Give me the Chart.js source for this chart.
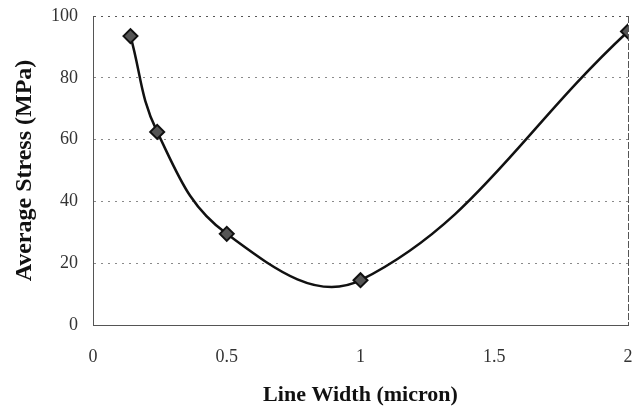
<!DOCTYPE html>
<html>
<head>
<meta charset="utf-8">
<script src="https://cdn.jsdelivr.net/npm/chart.js@4/dist/chart.umd.min.js"></script>
<style>
  html, body { margin: 0; padding: 0; background: #ffffff; }
  #wrap { width: 643px; height: 412px; position: relative; }
</style>
</head>
<body>
<div id="wrap"><canvas id="stress"></canvas></div>
<script>
// Line width (micron) vs average stress (MPa)
const lineWidths = [0.14, 0.24, 0.5, 1, 2];
const avgStress = [93.5, 62.5, 29.5, 14.5, 95];
const xTicks = [0, 0.5, 1, 1.5, 2];
const yTicks = [0, 20, 40, 60, 80, 100];

const serif = "'Liberation Serif', 'Times New Roman', serif";

// keep the plot box where the layout padding puts it
function noScalePadding(scale) {
  scale.paddingTop = 0;
  scale.paddingBottom = 0;
  scale.paddingLeft = 0;
  scale.paddingRight = 0;
}

const ctx = document.getElementById('stress').getContext('2d');

const stressChart = new Chart(ctx, {
  type: 'line',
  data: {
    datasets: [{
      label: 'Average Stress',
      data: lineWidths.map((x, i) => ({ x: x, y: avgStress[i] })),
      borderColor: '#111111',
      borderWidth: 2.5,
      tension: 0.4,
      fill: false,
      pointStyle: 'rectRot',
      pointRadius: 7,
      pointBackgroundColor: '#555555',
      pointBorderColor: '#111111',
      pointBorderWidth: 2
    }]
  },
  options: {
    responsive: true,
    maintainAspectRatio: false,
    animation: false,
    layout: {
      padding: { top: 16, right: 15, left: 0, bottom: 0 }
    },
    plugins: {
      legend: { display: false },
      tooltip: { enabled: false }
    },
    scales: {
      x: {
        type: 'linear',
        min: 0,
        max: 2,
        afterBuildTicks: (scale) => {
          scale.ticks = xTicks.map(v => ({ value: v }));
        },
        afterFit: (scale) => { scale.height = 87; noScalePadding(scale); },
        ticks: {
          color: '#333333',
          padding: 21,
          maxRotation: 0,
          font: { family: serif, size: 18 },
          callback: (v) => String(v)
        },
        grid: {
          drawTicks: false,
          color: (c) => (c.tick && c.tick.value === 2 ? '#555555' : 'transparent'),
          lineWidth: 1
        },
        border: { display: true, color: '#555555', width: 1, dash: [7, 2] },
        title: {
          display: true,
          text: 'Line Width (micron)',
          color: '#111111',
          font: { family: serif, size: 22, weight: 'bold' },
          padding: { top: 0, bottom: 3 }
        }
      },
      y: {
        min: 0,
        max: 100,
        afterBuildTicks: (scale) => {
          scale.ticks = yTicks.map(v => ({ value: v }));
        },
        afterFit: (scale) => { scale.width = 93; noScalePadding(scale); },
        ticks: {
          color: '#333333',
          padding: 15,
          font: { family: serif, size: 18 }
        },
        grid: {
          drawTicks: false,
          color: (c) => {
            if (!c.tick) return 'transparent';
            if (c.tick.value === 0) return 'transparent';
            if (c.tick.value === 100) return '#555555';
            return '#8a8a8a';
          },
          lineWidth: 1
        },
        border: { display: true, color: '#555555', width: 1, dash: [2, 5] },
        title: {
          display: true,
          text: 'Average Stress (MPa)',
          color: '#111111',
          font: { family: serif, size: 24, weight: 'bold' },
          padding: { top: 10, bottom: 0 }
        }
      }
    }
  }
});
</script>
</body>
</html>
